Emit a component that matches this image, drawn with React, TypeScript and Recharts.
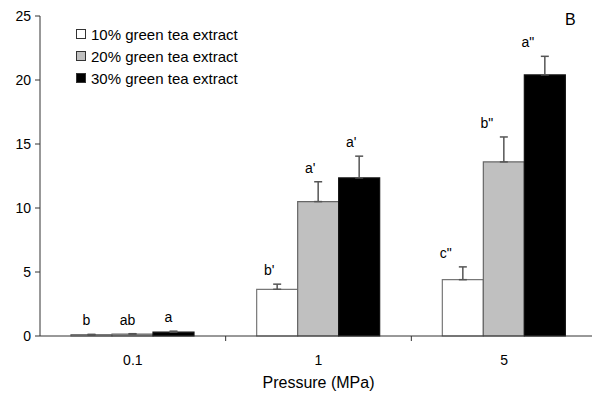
import { BarChart, Bar, XAxis, YAxis, ErrorBar, LabelList } from 'recharts';

const categories = ['0.1', '1', '5'];
const tea10 = [0.1, 3.65, 4.4];
const tea20 = [0.15, 10.5, 13.6];
const tea30 = [0.3, 12.35, 20.4];
const err10 = [0.03, 0.4, 1.0];
const err20 = [0.03, 1.55, 1.95];
const err30 = [0.08, 1.7, 1.45];
const letters10 = ['b', "b'", 'c"'];
const letters20 = ['ab', "a'", 'b"'];
const letters30 = ['a', "a'", 'a"'];
const yTicks = [0, 5, 10, 15, 20, 25];

const rows = categories.map((c, i) => ({
  p: c,
  t10: tea10[i], t20: tea20[i], t30: tea30[i],
  e10: [0, err10[i]], e20: [0, err20[i]], e30: [0, err30[i]],
  l10: letters10[i], l20: letters20[i], l30: letters30[i],
}));

const series = [
  { key: 't10', err: 'e10', lab: 'l10', errs: err10, vals: tea10, name: '10% green tea extract', fill: '#ffffff', stroke: '#777777' },
  { key: 't20', err: 'e20', lab: 'l20', errs: err20, vals: tea20, name: '20% green tea extract', fill: '#c0c0c0', stroke: '#666666' },
  { key: 't30', err: 'e30', lab: 'l30', errs: err30, vals: tea30, name: '30% green tea extract', fill: '#000000', stroke: '#111111' },
];

const FONT = '"Liberation Sans", Arial, sans-serif';
const W = 600, H = 396;
const PLOT_LEFT = 40, PLOT_RIGHT = 597;
const band = (PLOT_RIGHT - PLOT_LEFT) / categories.length;
const labelShift = [-5, -8, -17];

// letter labels sit just above each error bar
function makeLabel(vals: number[], errs: number[]) {
  return (props: any) => {
    const vb = props.viewBox ?? props;
    const { x, y, width, height } = vb;
    const i = props.index ?? 0;
    const perUnit = height / vals[i];
    const errTop = y - errs[i] * perUnit;
    return (
      <text x={x + width / 2 + labelShift[i]} y={errTop - 9} textAnchor="middle"
        fontSize={14} fontFamily={FONT} fill="#000">{props.value}</text>
    );
  };
}

// tick marks between categories, label in the middle
function XTick(props: any) {
  const { x, y, payload, index } = props;
  return (
    <g>
      {index > 0 && <line x1={x - band / 2} y1={336} x2={x - band / 2} y2={341} stroke="#333" />}
      <text x={x} y={y + 21} textAnchor="middle" fontSize={14} fontFamily={FONT} fill="#000">{payload.value}</text>
    </g>
  );
}

function LegendBox() {
  return (
    <div style={{ position: 'absolute', left: 76, top: 23, fontFamily: FONT, fontSize: 15, color: '#000' }}>
      {series.map((s) => (
        <div key={s.key} style={{ display: 'flex', alignItems: 'center', height: 22 }}>
          <span style={{ width: 8, height: 8, background: s.fill, border: '1px solid #333', marginRight: 5 }} />
          <span>{s.name}</span>
        </div>
      ))}
    </div>
  );
}

export default function App() {
  return (
    <div style={{ position: 'absolute', left: 0, top: 0, width: 592, height: 396, overflow: 'hidden', background: '#fff' }}>
      <BarChart width={W} height={H} data={rows} margin={{ top: 16, right: W - PLOT_RIGHT, bottom: 0, left: 0 }}
        barCategoryGap={31} barGap={0}>
        <XAxis dataKey="p" height={60} tickLine={false} stroke="#333" tick={<XTick />} interval={0}
          label={{ value: 'Pressure (MPa)', position: 'insideBottom', offset: 8, fontSize: 16, fontFamily: FONT, fill: '#000' }} />
        <YAxis width={PLOT_LEFT} domain={[0, 25]} ticks={yTicks} stroke="#333" tickSize={5} tickMargin={4}
          tick={{ fontSize: 14, fontFamily: FONT, fill: '#000' }} />
        {series.map((s) => (
          <Bar key={s.key} dataKey={s.key} name={s.name} fill={s.fill} stroke={s.stroke} strokeWidth={1.2} isAnimationActive={false}>
            <ErrorBar dataKey={s.err} width={4} stroke="#555" strokeWidth={1.5} direction="y" />
            <LabelList dataKey={s.lab} content={makeLabel(s.vals, s.errs)} />
          </Bar>
        ))}
      </BarChart>
      <LegendBox />
      <div style={{ position: 'absolute', left: 565, top: 11, fontFamily: FONT, fontSize: 16, color: '#000' }}>B</div>
    </div>
  );
}
